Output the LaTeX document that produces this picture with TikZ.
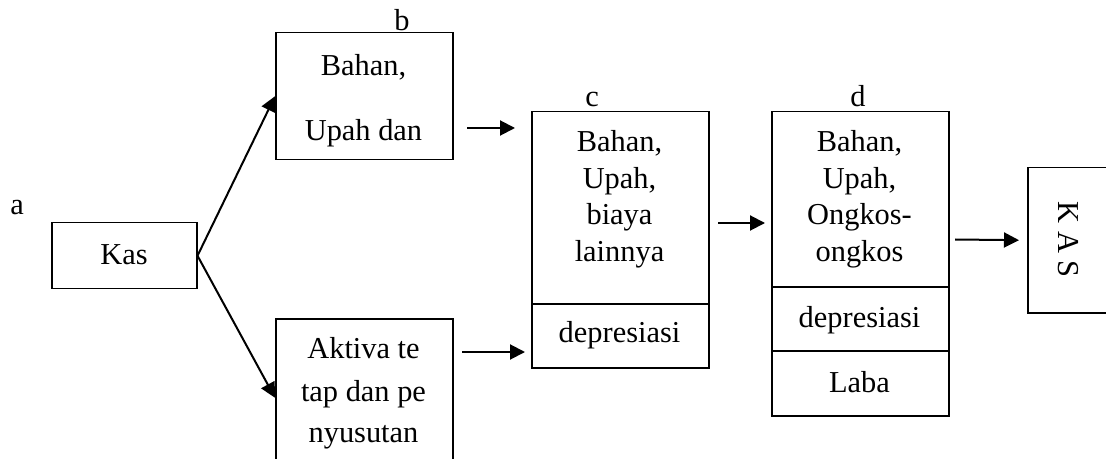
\documentclass[tikz,border=0pt]{standalone}
\usepackage{fontspec}
\setmainfont{Liberation Serif}
\usetikzlibrary{arrows.meta}
\begin{document}
\begin{tikzpicture}[x=0.5pt,y=-0.5pt,
  every node/.style={font=\fontsize{15.2pt}{18pt}\selectfont, inner sep=0pt},
  box/.style={draw, line width=0.75pt, anchor=north west, minimum width=88.5pt},
  txt/.style={anchor=base},
  arr/.style={line width=1pt, -{Triangle[length=7.5pt,width=7.5pt]}}]
\clip (0,0) rectangle (1106,459);
% boxes
\node[box, minimum width=72.5pt, minimum height=33pt] (kas) at (51,222) {};
\node[box, minimum height=63.5pt] (b) at (275,32) {};
\node[box, minimum height=79pt] (akt) at (275,318) {};
\node[box, minimum height=128pt] (c) at (531,111) {};
\node[box, minimum height=152pt] (d) at (771,111) {};
\node[box, minimum width=60pt, minimum height=72.5pt] (kasr) at (1027,167) {};
% dividers
\draw[line width=0.75pt] (c.west |- 0,304) -- (c.east |- 0,304);
\draw[line width=0.75pt] (d.west |- 0,287) -- (d.east |- 0,287);
\draw[line width=0.75pt] (d.west |- 0,351) -- (d.east |- 0,351);
% labels
\node[txt] (la) at (17,215) {a};
\node[txt] (lb) at (402,31) {b};
\node[txt] (lc) at (592,107) {c};
\node[txt] (ld) at (858,107) {d};
% texts
\node[txt] (tkas) at (124,264) {Kas};
\node[txt] (tb1) at (363.5,76) {Bahan,};
\node[txt] (tb2) at (363.5,141) {Upah dan};
\node[txt] (ta1) at (363.5,358) {Aktiva te};
\node[txt] (ta2) at (363.5,401) {tap dan pe};
\node[txt] (ta3) at (363.5,442) {nyusutan};
\node[txt] (tc1) at (619.5,152) {Bahan,};
\node[txt] (tc2) at (619.5,188.5) {Upah,};
\node[txt] (tc3) at (619.5,225) {biaya};
\node[txt] (tc4) at (619.5,262) {lainnya};
\node[txt] (tc5) at (619.5,343) {depresiasi};
\node[txt] (td1) at (859.5,152) {Bahan,};
\node[txt] (td2) at (859.5,188.5) {Upah,};
\node[txt] (td3) at (859.5,225) {Ongkos-};
\node[txt] (td4) at (859.5,262) {ongkos};
\node[txt] (td5) at (859.5,327) {depresiasi};
\node[txt] (td6) at (859.5,392) {Laba};
\node[rotate=-90] (tkasr) at (1068,239.5) {K A S};
% arrows
\draw[arr] (kas.east) -- (b.west);
\draw[arr] (kas.east) -- (akt.west);
\coordinate (bc1) at (467,128); \coordinate (bc2) at (515,128);
\draw[arr] (bc1) -- (bc2);
\coordinate (ac1) at (462,352); \coordinate (ac2) at (525,352);
\draw[arr] (ac1) -- (ac2);
\coordinate (cd1) at (718,223); \coordinate (cd2) at (765,223);
\draw[arr] (cd1) -- (cd2);
\coordinate (dk1) at (955,239.5);
\draw[arr, shorten >=4pt] (dk1) -- (kasr.west);
\end{tikzpicture}
\end{document}
